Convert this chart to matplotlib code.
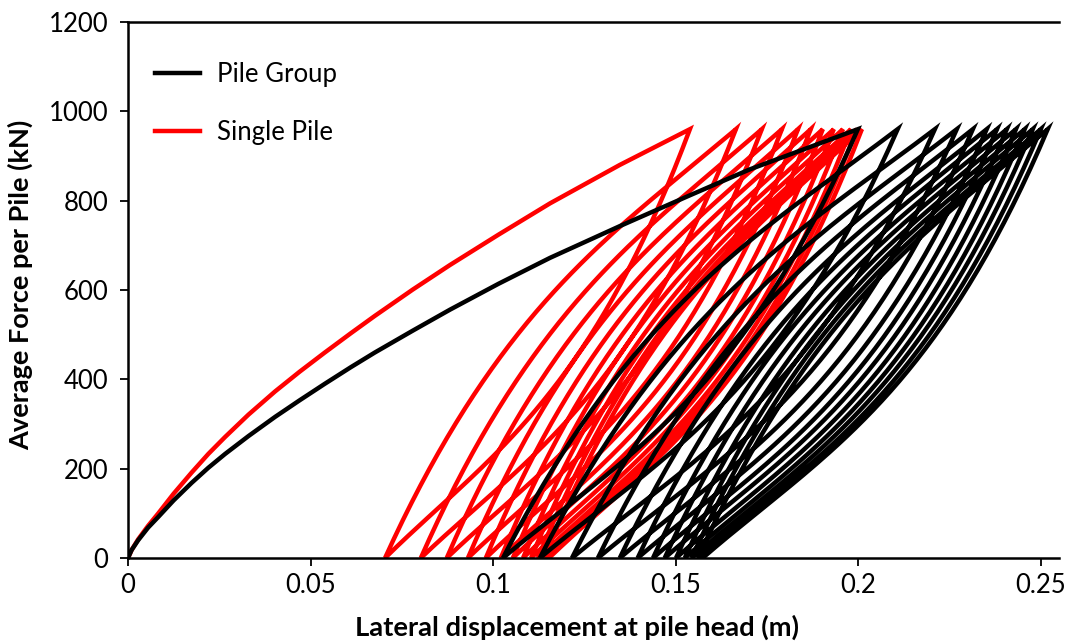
import numpy as np
import matplotlib
matplotlib.use("Agg")
import matplotlib.pyplot as plt

plt.rcParams['font.family'] = ['Lato', 'DejaVu Sans']

# Peak lateral load applied in every cycle (kN)
peak_force = 960.0

# Monotonic (first) loading curves: displacement (m), force (kN)
group_backbone_x = [0.0, 0.001, 0.0028, 0.0055, 0.0083, 0.0125, 0.0174, 0.022,
                    0.0266, 0.033, 0.0403, 0.047, 0.0539, 0.061, 0.0676, 0.078,
                    0.0882, 0.1015, 0.1156, 0.1347, 0.1539, 0.1703, 0.1999]
group_backbone_f = [0, 18, 40, 68, 92, 129, 168, 202,
                    233, 273, 316, 353, 390, 427, 460, 509,
                    556, 614, 672, 743, 812, 870, 960]
single_backbone_x = [0.0, 0.001, 0.0028, 0.0055, 0.0083, 0.0125, 0.0174, 0.022,
                     0.0266, 0.033, 0.0403, 0.047, 0.0539, 0.061, 0.0676, 0.078,
                     0.0882, 0.1015, 0.1156, 0.1347, 0.1539]
single_backbone_f = [0, 18, 42, 72, 100, 144, 191, 233,
                     271, 321, 373, 417, 460, 503, 542, 601,
                     656, 724, 794, 880, 960]

# Displacement at peak load for each cycle (m)
group_peaks = [0.1999, 0.2108, 0.2210, 0.2270, 0.2314, 0.2352, 0.2380,
               0.2407, 0.2432, 0.2456, 0.2478, 0.2500, 0.2519]
single_peaks = [0.1539, 0.1665, 0.1736, 0.1791, 0.1835, 0.1870, 0.1903,
                0.1933, 0.1958, 0.1980, 0.1996, 0.2010]

# Residual displacement at zero load after each unloading (m)
group_resid = [0.1027, 0.1128, 0.1216, 0.1287, 0.1347, 0.1396, 0.1438,
               0.1470, 0.1501, 0.1525, 0.1544, 0.1561, 0.1574]
single_resid = [0.0704, 0.0802, 0.0873, 0.0931, 0.0980, 0.1021, 0.1054,
                0.1082, 0.1104, 0.1123, 0.1139, 0.1153]


def hermite(t, m0, m1):
    """Monotone cubic from (0,0) to (1,1) with end slopes m0 and m1."""
    h01 = -2 * t**3 + 3 * t**2
    h10 = t**3 - 2 * t**2 + t
    h11 = t**3 - t**2
    return h01 + m0 * h10 + m1 * h11


def hysteresis_path(bx, bf, peaks, resid, fmax, n=80):
    xs = list(bx)
    fs = list(bf)
    t = np.linspace(0.0, 1.0, n)
    for i, xp in enumerate(peaks):
        xr = resid[i]
        # unloading branch: steep off the peak, softer towards zero load
        g = hermite(t, 0.7, 1.9)
        ux = xr + (xp - xr) * t
        uf = fmax * g
        xs.extend(ux[::-1][1:])
        fs.extend(uf[::-1][1:])
        if i + 1 < len(peaks):
            # reloading branch: stiff at zero load, softening towards the peak
            xn = peaks[i + 1]
            g = hermite(t, 1.8, 0.7)
            xs.extend((xr + (xn - xr) * t)[1:])
            fs.extend((fmax * g)[1:])
    return np.array(xs), np.array(fs)


fig = plt.figure(figsize=(10.70, 6.41), dpi=100)
ax = fig.add_axes([128 / 1070, 1 - 558 / 641, (1059 - 128) / 1070, (558 - 22) / 641])

sx, sf = hysteresis_path(single_backbone_x, single_backbone_f, single_peaks,
                         single_resid, peak_force)
gx, gf = hysteresis_path(group_backbone_x, group_backbone_f, group_peaks,
                         group_resid, peak_force)

lw = 3.2
ax.plot(sx, sf, color='#ff0000', lw=lw, solid_joinstyle='miter', zorder=2)
ax.plot(gx, gf, color='black', lw=lw, solid_joinstyle='miter', zorder=3)

ax.set_xlim(0, 0.255)
ax.set_ylim(0, 1200)
ax.set_xticks([0, 0.05, 0.1, 0.15, 0.2, 0.25])
ax.set_xticklabels(['0', '0.05', '0.1', '0.15', '0.2', '0.25'])
ax.set_yticks(range(0, 1201, 200))

for side in ['left', 'bottom', 'top']:
    ax.spines[side].set_linewidth(1.8)
    ax.spines[side].set_color('black')
ax.spines['right'].set_visible(False)

ax.tick_params(axis='both', labelsize=18.5, length=5.8, width=1.3, direction='out',
               colors='black')
ax.tick_params(axis='x', pad=5)
ax.tick_params(axis='y', pad=8.5)

ax.set_xlabel('Lateral displacement at pile head (m)', fontsize=19.7, fontweight='bold',
              va='center')
ax.set_ylabel('Average Force per Pile (kN)', fontsize=19.5, fontweight='bold',
              va='center')
ax.xaxis.set_label_coords(0.482, -0.129)
ax.yaxis.set_label_coords(-0.116, 0.509)

handles = [plt.Line2D([], [], color='black', lw=lw),
           plt.Line2D([], [], color='#ff0000', lw=lw)]
ax.legend(handles, ['Pile Group', 'Single Pile'], loc='upper left',
          bbox_to_anchor=(0.029, 0.925), frameon=False, fontsize=18.5,
          handlelength=1.75, handletextpad=0.65, labelspacing=1.28,
          borderaxespad=0, borderpad=0)

fig.savefig('out.png', dpi=100)
